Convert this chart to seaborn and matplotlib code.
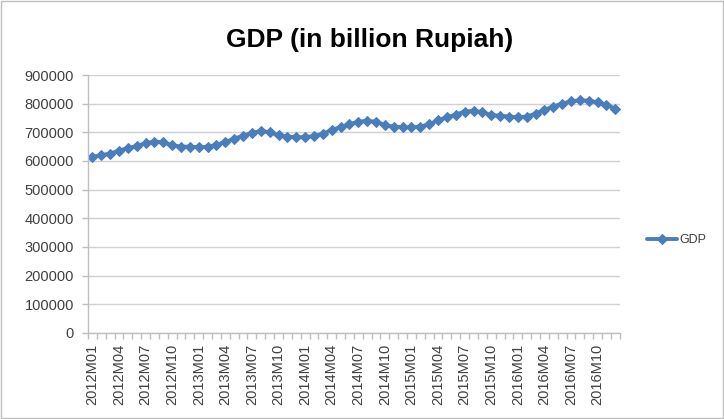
import matplotlib
matplotlib.use("Agg")
import matplotlib.pyplot as plt
import seaborn as sns
import pandas as pd
from matplotlib.ticker import MultipleLocator, FixedLocator

# Monthly GDP, billion Rupiah
years = [2012, 2013, 2014, 2015, 2016]
gdp_2012 = [615000, 620000, 626000, 636000, 645000, 652000, 662000, 668000, 665000, 655000, 650000, 650000]
gdp_2013 = [648000, 650000, 656000, 666000, 678000, 688000, 698000, 705000, 700000, 690000, 685000, 683000]
gdp_2014 = [683000, 687000, 695000, 708000, 718000, 728000, 737000, 740000, 737000, 725000, 720000, 718000]
gdp_2015 = [717000, 720000, 728000, 742000, 752000, 762000, 772000, 775000, 770000, 760000, 758000, 755000]
gdp_2016 = [752000, 755000, 765000, 778000, 790000, 800000, 808000, 812000, 810000, 805000, 795000, 783000]

months = [f"{y}M{m:02d}" for y in years for m in range(1, 13)]
gdp = gdp_2012 + gdp_2013 + gdp_2014 + gdp_2015 + gdp_2016
df = pd.DataFrame({"month": months, "GDP": gdp})

sns.set_theme(style="white")
plt.rcParams["font.family"] = ["Liberation Sans", "DejaVu Sans"]

fig = plt.figure(figsize=(7.24, 4.19), dpi=100)
ax = fig.add_axes([0.1215, 0.2053, 0.7345, 0.6157])

blue = "#4a7ebb"
sns.lineplot(data=df, x="month", y="GDP", ax=ax, color=blue, linewidth=2.8,
             marker="D", markersize=5.5, markeredgecolor=blue, sort=False,
             label="GDP")

ax.set_ylim(0, 900000)
ax.set_xlim(-0.5, len(months) - 0.5)
ax.yaxis.set_major_locator(MultipleLocator(100000))
ax.yaxis.grid(True, color="#d0d0d0", linewidth=1)
ax.set_axisbelow(True)

# category labels every quarter, tick marks at every month boundary
ax.xaxis.set_major_locator(FixedLocator(list(range(0, len(months), 3))))
ax.set_xticklabels(months[::3], rotation=90)
ax.xaxis.set_minor_locator(FixedLocator([k - 0.5 for k in range(len(months) + 1)]))
ax.tick_params(axis="x", which="major", length=0, labelsize=10.5, colors="#404040", pad=8)
ax.tick_params(axis="x", which="minor", length=4, color="#bfbfbf", width=1, bottom=True)
ax.tick_params(axis="y", which="major", length=4, color="#bfbfbf", width=1, left=True,
               labelsize=10.5, labelcolor="#404040", pad=6)

ax.set_xlabel("")
ax.set_ylabel("")
for side in ("top", "right"):
    ax.spines[side].set_visible(False)
for side in ("left", "bottom"):
    ax.spines[side].set_color("#bfbfbf")
    ax.spines[side].set_linewidth(1)

leg = ax.legend(loc="center left", bbox_to_anchor=(1.03, 0.36), frameon=False,
                fontsize=9, handlelength=2.4, handletextpad=0.2, labelcolor="#404040")

fig.text(0.511, 0.905, "GDP (in billion Rupiah)", ha="center", va="center",
         fontsize=19, fontweight="bold", color="#000000")

# chart area border
fig.patches.append(plt.Rectangle((0.002, 0.002), 0.996, 0.996, transform=fig.transFigure,
                                 fill=False, edgecolor="#bfbfbf", linewidth=1))

fig.savefig("out.png", dpi=100)
